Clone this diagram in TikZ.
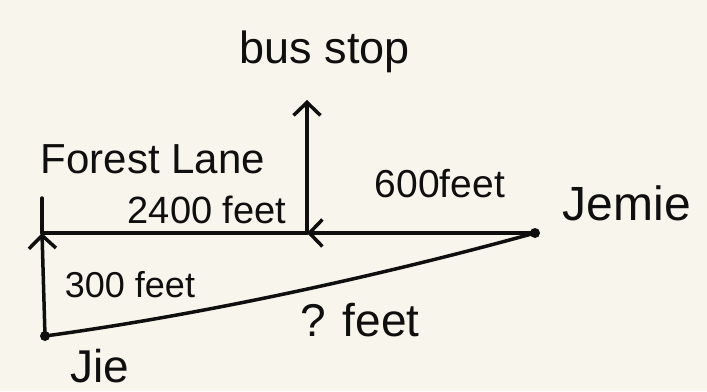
\documentclass[tikz,border=0pt]{standalone}
\usepackage{fontspec}
\setmainfont{Liberation Sans}
\usetikzlibrary{arrows.meta}
\definecolor{paper}{RGB}{248,246,236}
\definecolor{ink}{RGB}{15,15,15}
\begin{document}
\begin{tikzpicture}[x=1pt,y=-1pt,
  inkline/.style={draw=ink,line width=3.5pt,line cap=round},
  barb/.style={-{Straight Barb[length=13pt,width=27pt,line width=3.5pt]}},
  lbl/.style={text=ink,inner sep=0pt,anchor=center},
  dotmark/.style={circle,fill=ink,inner sep=0pt,minimum size=10pt}]
\fill[paper] (0,0) rectangle (707,391);
\useasboundingbox (0,0) rectangle (707,391);
% points
\node[dotmark] (jie) at (45,336) {};
\node[dotmark] (jemie) at (535,233) {};
\coordinate (corner) at (42,233);
\coordinate (tick) at (42,198);
\coordinate (bus) at (307,233);
\coordinate (bustop) at (307,100);
% connectors
\draw[inkline,barb] (jie.center) -- (corner);
\draw[inkline] (corner) -- (tick);
\draw[inkline] (corner) -- (bus);
\draw[inkline,barb] (jemie.center) -- (bus);
\draw[inkline,barb] (bus) -- (bustop);
\draw[inkline] (jie.center) .. controls (200,315) and (380,276) .. (jemie.center);
% labels
\node[lbl,font=\fontsize{45}{50}\selectfont] (busstop) at (325,52) {bus stop};
\node[lbl,font=\fontsize{42}{46}\selectfont] (forest) at (153,159) {Forest Lane};
\node[lbl,font=\fontsize{38}{42}\selectfont] (d2400) at (207,210) {2400 feet};
\node[lbl,font=\fontsize{39}{43}\selectfont] (d600) at (440,184) {600feet};
\node[lbl,font=\fontsize{48}{52}\selectfont] (jemielbl) at (627,203) {Jemie};
\node[lbl,font=\fontsize{36}{40}\selectfont] (d300) at (130,285) {300 feet};
\node[lbl,font=\fontsize{46}{50}\selectfont] (dq) at (360,320) {? feet};
\node[lbl,font=\fontsize{46}{50}\selectfont] (jielbl) at (100,366) {Jie};
\end{tikzpicture}
\end{document}
